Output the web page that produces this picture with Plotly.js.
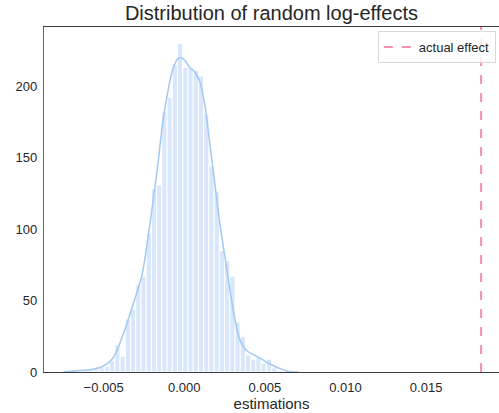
<!DOCTYPE html>
<html>
<head>
<meta charset="utf-8">
<script src="https://cdn.plot.ly/plotly-3.0.1.min.js"></script>
<style>html,body{margin:0;padding:0;background:#fff;}#chart{width:499px;height:413px;}</style>
</head>
<body>
<div id="chart"></div>
<script>
// Histogram of estimations (counts per bin)
const binStart = -0.00625;
const binWidth = 0.000324;
const counts = [1, 2, 2, 3, 4, 8, 19, 11, 37, 44, 61, 67, 97, 128, 131, 182, 192, 215, 230, 213, 213, 211, 207, 180, 144, 126, 85, 78, 67, 35, 25, 12, 9, 10, 6, 9, 3, 1];

// KDE curve (count scale)
const kdeX = [-0.0075, -0.00645, -0.00565, -0.00503, -0.00441, -0.0038, -0.00318, -0.00262, -0.00225, -0.00194, -0.00164, -0.00133, -0.00102, -0.00071, -0.0004, -0.00017, 0.00003, 0.00034, 0.00065, 0.00096, 0.00127, 0.00157, 0.00188, 0.00219, 0.0025, 0.00281, 0.00312, 0.00343, 0.00386, 0.00448, 0.00509, 0.0059, 0.0065, 0.0071];
const kdeY = [0, 1, 2, 4, 10, 26, 47, 68, 94, 119, 145, 175, 196, 212, 219, 220, 218, 213, 210, 203, 187, 161, 133, 105, 82, 59, 38, 23, 15, 11, 7, 2.5, 0.3, 0];

const actualEffect = 0.01841;
const xTicks = [-0.005, 0.000, 0.005, 0.010, 0.015];
const yTicks = [0, 50, 100, 150, 200];
const xRange = [-0.0087, 0.01952];
const yRange = [0, 241.3];

const binCenters = counts.map((c, i) => binStart + (i + 0.5) * binWidth);

const traces = [
  {
    type: 'bar', x: binCenters, y: counts, width: binWidth,
    marker: {color: 'rgba(161,201,244,0.42)', line: {color: '#ffffff', width: 1}},
    showlegend: false, hoverinfo: 'skip'
  },
  {
    type: 'scatter', mode: 'lines', x: kdeX, y: kdeY, line: {color: '#a1c9f4', width: 1.5, shape: 'spline', smoothing: 0.8},
    showlegend: false, hoverinfo: 'skip'
  },
  {
    type: 'scatter', mode: 'lines', x: [actualEffect, actualEffect], y: yRange,
    name: 'actual effect', line: {color: '#f58fae', width: 2, dash: 'dash'}
  }
];

const layout = {
  width: 499, height: 413,
  margin: {l: 44, r: 0, t: 27, b: 41},
  paper_bgcolor: '#fff', plot_bgcolor: '#fff',
  font: {family: 'Liberation Sans, Arial, sans-serif', color: '#262626', size: 13},
  title: {text: 'Distribution of random log-effects', font: {size: 20, color: '#262626'}, x: 0.544, xanchor: 'center', y: 0.968, yanchor: 'middle'},
  bargap: 0,
  xaxis: {
    range: xRange, tickvals: xTicks, tickformat: '.3f', showgrid: false, zeroline: false,
    showline: true, mirror: true, linecolor: '#3a3a3a', linewidth: 1.2, ticks: '', ticklabelstandoff: 3,
    title: {text: 'estimations', font: {size: 15}, standoff: 2}, tickfont: {size: 13}
  },
  yaxis: {
    range: yRange, tickvals: yTicks, showgrid: false, zeroline: false, ticklabelstandoff: 3,
    showline: true, linecolor: '#666', linewidth: 1.2, ticks: '', tickfont: {size: 13}
  },
  legend: {
    x: 0.993, y: 0.988, xanchor: 'right', yanchor: 'top',
    bordercolor: '#d9d9d9', borderwidth: 1, bgcolor: 'rgba(255,255,255,0.8)',
    font: {size: 13, color: '#262626'}
  }
};

Plotly.newPlot('chart', traces, layout, {staticPlot: true, displayModeBar: false});
</script>
</body>
</html>
